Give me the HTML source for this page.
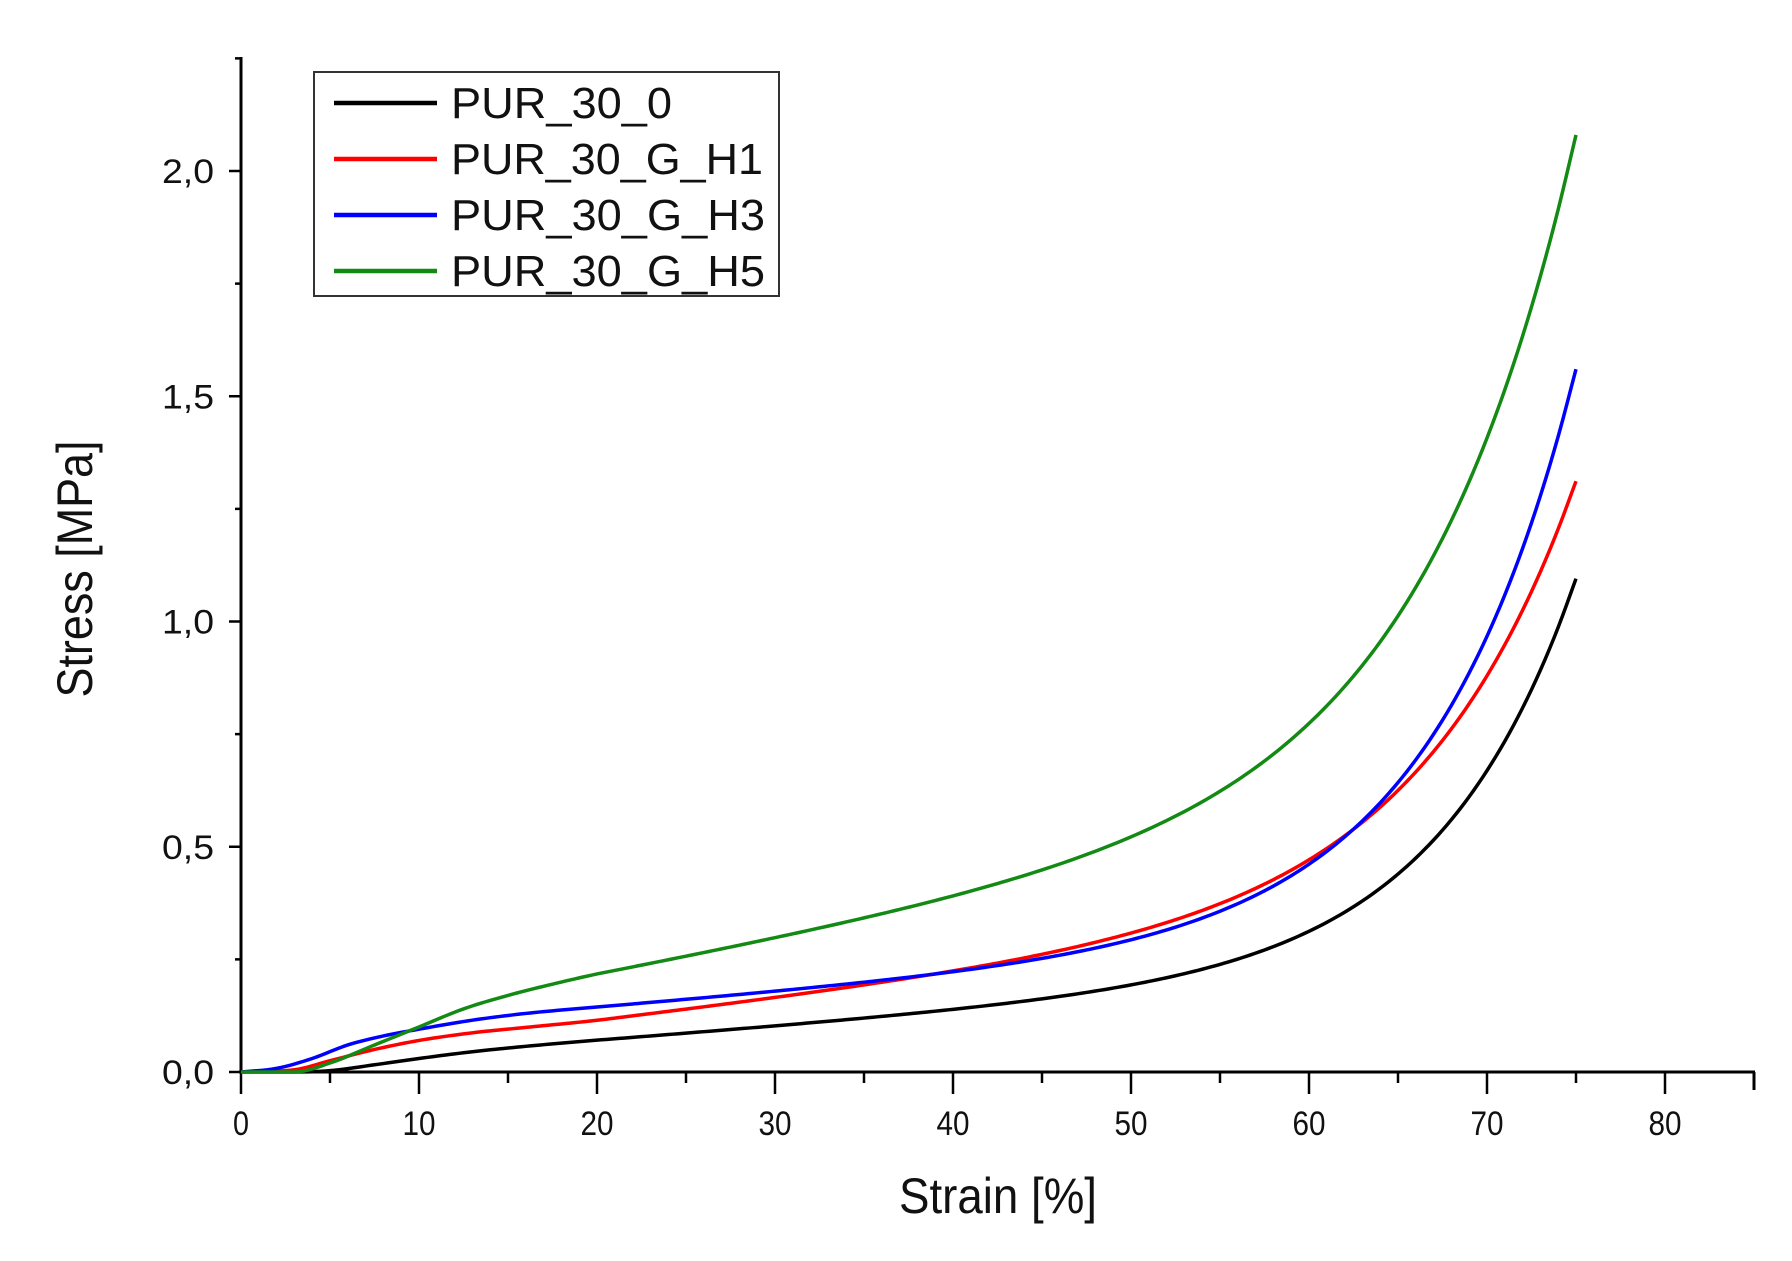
<!DOCTYPE html>
<html><head><meta charset="utf-8"><style>
html,body{margin:0;padding:0;background:#fff;}
svg{display:block;font-family:"Liberation Sans",Arial,sans-serif;}
</style></head><body>
<svg id="s" width="1792" height="1261" viewBox="0 0 1792 1261" xmlns="http://www.w3.org/2000/svg">
<rect width="1792" height="1261" fill="#fff"/>
<g id="axes" stroke="#000" stroke-width="3" fill="none">
<line x1="241" y1="57" x2="241" y2="1073"/>
<line x1="239" y1="1072" x2="1755" y2="1072"/>
<line x1="1754" y1="1072" x2="1754" y2="1090"/>
</g>
<g id="ticks" stroke="#000" stroke-width="2.5"></g>
<g id="labels" font-size="34" fill="#111"></g>
<text x="998" y="1213" font-size="50" text-anchor="middle" textLength="198" lengthAdjust="spacingAndGlyphs" fill="#111">Strain [%]</text>
<text transform="translate(92,569) rotate(-90)" font-size="50" text-anchor="middle" textLength="257" lengthAdjust="spacingAndGlyphs" fill="#111">Stress [MPa]</text>
<g id="curves" fill="none" stroke-width="3.5" stroke-linejoin="round"></g>
<rect x="314" y="72" width="465" height="224" fill="#fff" stroke="#333" stroke-width="2"/>
<g stroke-width="4.5">
<line x1="334" y1="103" x2="437" y2="103" stroke="#000"/>
<line x1="334" y1="159" x2="437" y2="159" stroke="#ff0000"/>
<line x1="334" y1="215" x2="437" y2="215" stroke="#0000ff"/>
<line x1="334" y1="271" x2="437" y2="271" stroke="#138a13"/>
</g>
<g font-size="44" fill="#111">
<text x="451" y="118" textLength="221" lengthAdjust="spacingAndGlyphs">PUR_30_0</text>
<text x="451" y="174" textLength="312" lengthAdjust="spacingAndGlyphs">PUR_30_G_H1</text>
<text x="451" y="230" textLength="314" lengthAdjust="spacingAndGlyphs">PUR_30_G_H3</text>
<text x="451" y="286" textLength="314" lengthAdjust="spacingAndGlyphs">PUR_30_G_H5</text>
</g>
</svg>
<script>
var NS="http://www.w3.org/2000/svg";
function X(v){return 241+v*17.8;}
function Y(v){return 1072-v*450.5;}
function el(p,t,a,txt){var e=document.createElementNS(NS,t);for(var k in a)e.setAttribute(k,a[k]);if(txt!==undefined)e.textContent=txt;document.getElementById(p).appendChild(e);return e;}
for(var i=0;i<=17;i++){var x=X(i*5);var L=(i%2==0)?22:11;el("ticks","line",{x1:x,y1:1072,x2:x,y2:1072+L});
 if(i%2==0&&i<=16)el("labels","text",{x:x,y:1135,"text-anchor":"middle",textLength:(i==0?16:33),lengthAdjust:"spacingAndGlyphs"},String(i*5));}
for(var j=0;j<=9;j++){var v=j*0.25;var y=Y(v);var L=(j%2==0)?12:6;el("ticks","line",{x1:241-L,y1:y,x2:241,y2:y});
 if(j%2==0)el("labels","text",{x:214,y:y+12,"text-anchor":"end",textLength:52,lengthAdjust:"spacingAndGlyphs"},(v.toFixed(1)).replace(".",","));}
var curves=[
 {c:"#000",low:[[0,0],[3,0],[5,0.003],[7.5,0.016],[10,0.03],[13,0.045],[16,0.057]],b0:0.07,sl:0.003,E:0.86,k:0.13},
 {c:"#ff0000",low:[[0,0],[3,0.005],[5,0.025],[7.5,0.05],[10,0.07],[13,0.087],[16,0.099]],b0:0.113,sl:0.0047,E:0.94,k:0.114},
 {c:"#0000ff",low:[[0,0],[2,0.008],[4,0.03],[6,0.06],[8,0.08],[10,0.095],[13,0.115],[16,0.13]],b0:0.143,sl:0.0032,E:1.241,k:0.125},
 {c:"#138a13",low:[[0,0],[3,0],[5,0.02],[7.5,0.06],[10,0.10],[12.5,0.14],[15,0.17],[17.5,0.195]],b0:0.215,sl:0.0075,E:1.4525,k:0.115}];
function mono(pts){var n=pts.length,xs=pts.map(p=>p[0]),ys=pts.map(p=>p[1]),d=[],m=[];
 for(var i=0;i<n-1;i++)d.push((ys[i+1]-ys[i])/(xs[i+1]-xs[i]));
 m[0]=d[0];m[n-1]=d[n-2];
 for(var i=1;i<n-1;i++){m[i]=(d[i-1]*d[i]<=0)?0:(d[i-1]+d[i])/2;}
 for(var i=0;i<n-1;i++){if(d[i]==0){m[i]=0;m[i+1]=0;continue;}var a=m[i]/d[i],b=m[i+1]/d[i],s=a*a+b*b;if(s>9){var t=3/Math.sqrt(s);m[i]=t*a*d[i];m[i+1]=t*b*d[i];}}
 var out=[];
 for(var i=0;i<n-1;i++){var h=xs[i+1]-xs[i];var N=Math.max(2,Math.round(h*4));for(var k=0;k<N;k++){var t=k/N,t2=t*t,t3=t2*t;
  var y=(2*t3-3*t2+1)*ys[i]+(t3-2*t2+t)*h*m[i]+(-2*t3+3*t2)*ys[i+1]+(t3-t2)*h*m[i+1];
  out.push([xs[i]+t*h,y]);}}
 out.push([xs[n-1],ys[n-1]]);return out;}
curves.forEach(function(cv){
 var pts=cv.low.slice();
 for(var x=20;x<=75.001;x+=1){pts.push([x,cv.b0+cv.sl*(x-20)+cv.E*Math.exp(cv.k*(x-75))]);}
 var p=mono(pts);
 var d="M"+p.map(q=>X(q[0]).toFixed(2)+","+Y(q[1]).toFixed(2)).join(" L");
 el("curves","path",{d:d,stroke:cv.c});
});
</script>
</body></html>
